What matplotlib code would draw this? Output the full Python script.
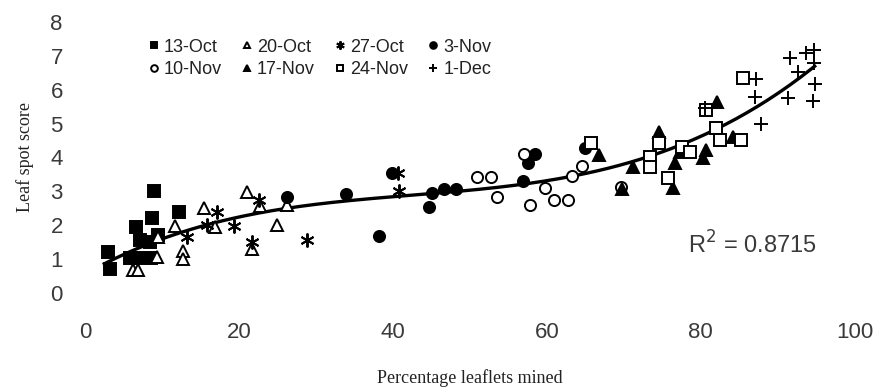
import numpy as np
import matplotlib
matplotlib.use("Agg")
import matplotlib.pyplot as plt

# leaf spot score vs percentage leaflets mined, per sampling date
oct13_x = [3.0, 3.2, 5.8, 6.9, 8.6, 7.1, 8.4, 6.6, 8.7, 8.9, 9.5, 12.2]
oct13_y = [1.2, 0.7, 1.03, 1.03, 1.03, 1.55, 1.5, 1.95, 2.2, 3.0, 1.7, 2.4]

oct20_x = [6.2, 6.9, 9.3, 9.5, 11.7, 12.7, 12.7, 15.5, 16.9, 21.0, 21.7, 22.7, 25.0, 26.3]
oct20_y = [0.68, 0.68, 1.05, 1.66, 1.97, 1.25, 1.0, 2.5, 1.95, 2.98, 1.3, 2.55, 2.0, 2.6]

oct27_x = [13.3, 15.9, 17.2, 19.3, 21.7, 22.6, 28.8, 40.8, 40.7]
oct27_y = [1.65, 2.0, 2.4, 1.97, 1.5, 2.75, 1.55, 3.0, 3.55]

nov3_x = [26.3, 33.9, 39.9, 38.2, 44.7, 45.1, 46.6, 48.2, 56.9, 57.5, 58.4, 65.0]
nov3_y = [2.83, 2.92, 3.55, 1.68, 2.54, 2.95, 3.07, 3.07, 3.3, 3.83, 4.1, 4.28]

nov10_x = [50.9, 52.7, 53.5, 57.0, 57.8, 59.8, 60.9, 62.8, 63.3, 64.6, 69.6]
nov10_y = [3.42, 3.42, 2.83, 4.1, 2.6, 3.1, 2.74, 2.74, 3.45, 3.75, 3.12]

nov17_x = [66.8, 69.8, 71.2, 74.6, 76.4, 76.7, 77.3, 80.3, 80.7, 82.1, 84.2]
nov17_y = [4.07, 3.08, 3.72, 4.75, 3.1, 3.83, 4.16, 3.98, 4.22, 5.63, 4.6]

nov24_x = [65.8, 73.4, 73.4, 74.6, 75.8, 77.5, 78.6, 80.7, 82.0, 82.5, 85.2, 85.5]
nov24_y = [4.42, 4.0, 3.72, 4.42, 3.4, 4.3, 4.16, 5.4, 4.87, 4.5, 4.5, 6.35]

dec1_x = [80.6, 87.0, 87.2, 87.8, 91.3, 91.6, 92.6, 93.7, 94.7, 94.7, 94.8, 94.6]
dec1_y = [5.45, 5.79, 6.3, 4.98, 5.75, 6.93, 6.52, 7.08, 7.17, 6.8, 6.17, 5.66]

r2_text = "R$^2$ = 0.8715"

series = [
    ("13-Oct", oct13_x, oct13_y, dict(marker="s", mfc="black", mec="black")),
    ("20-Oct", oct20_x, oct20_y, dict(marker="^", mfc="white", mec="black")),
    ("27-Oct", oct27_x, oct27_y, dict(marker=(6, 2, 0), mfc="black", mec="black")),
    ("3-Nov", nov3_x, nov3_y, dict(marker="o", mfc="black", mec="black")),
    ("10-Nov", nov10_x, nov10_y, dict(marker="o", mfc="white", mec="black")),
    ("17-Nov", nov17_x, nov17_y, dict(marker="^", mfc="black", mec="black")),
    ("24-Nov", nov24_x, nov24_y, dict(marker="s", mfc="white", mec="black")),
    ("1-Dec", dec1_x, dec1_y, dict(marker="+", mfc="black", mec="black")),
]

plt.rcParams["font.family"] = ["Liberation Sans", "DejaVu Sans"]

fig = plt.figure(figsize=(8.95, 3.91), dpi=100)
ax = fig.add_axes([0.095, 0.251, 0.86, 0.693])

handles = []
for name, xs, ys, st in series:
    ms = 10 if st["marker"] in ("+", (6, 2, 0)) else 8
    h, = ax.plot(xs, ys, ls="none", ms=ms, mew=1.4, label=name, zorder=3, **st)
    handles.append(h)

# third-order polynomial trend through all points
all_x = np.concatenate([s[1] for s in series])
all_y = np.concatenate([s[2] for s in series])
coef = np.polyfit(all_x, all_y, 3)
xx = np.linspace(all_x.min() - 0.5, all_x.max(), 200)
ax.plot(xx, np.polyval(coef, xx), color="black", lw=2.4, zorder=2)

ax.text(78.4, 1.42, r2_text, fontsize=17, color="#3a3a3a", ha="left", va="center")

ax.set_xlim(0, 100)
ax.set_ylim(0, 8)
ax.set_xticks(range(0, 101, 20))
ax.set_yticks(range(0, 9))
for sp in ax.spines.values():
    sp.set_visible(False)
ax.tick_params(axis="both", length=0, labelsize=16, labelcolor="#3a3a3a")
ax.tick_params(axis="y", pad=16)
ax.tick_params(axis="x", pad=21)

ax.set_xlabel("Percentage leaflets mined", family="Liberation Serif",
              fontsize=13, color="#222222", labelpad=19)
ax.set_ylabel("Leaf spot score", family="Liberation Serif",
              fontsize=13, color="#222222", labelpad=12)

order = [0, 4, 1, 5, 2, 6, 3, 7]
leg = ax.legend([handles[i] for i in order], [series[i][0] for i in order],
                ncol=4, frameon=False, loc="upper left",
                bbox_to_anchor=(0.073, 0.965), fontsize=13,
                markerscale=0.6, handlelength=0.6, handletextpad=0.25,
                columnspacing=1.1, labelspacing=0.3, borderaxespad=0)
for t in leg.get_texts():
    t.set_color("#222222")

fig.savefig("out.png", dpi=100)
